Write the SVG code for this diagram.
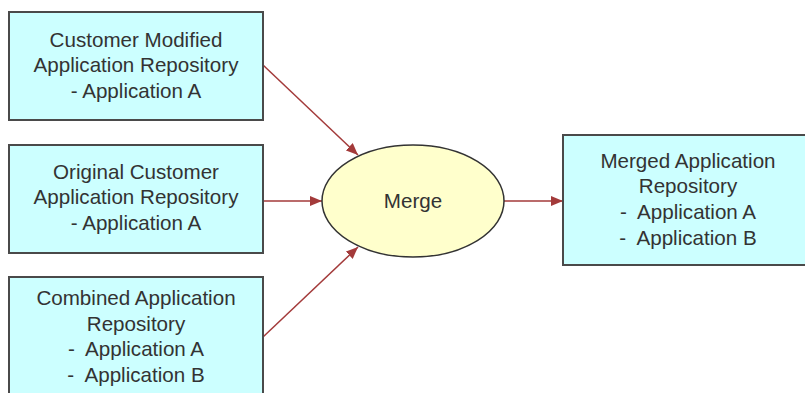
<svg xmlns="http://www.w3.org/2000/svg" width="805" height="393" viewBox="0 0 805 393">
<style>
.box{fill:#ccffff;stroke:#4a4a4a;stroke-width:2}
.ell{fill:#ffffcc;stroke:#333333;stroke-width:1.5}
.t{font-family:"Liberation Sans",Arial,sans-serif;font-size:20.6px;fill:#333333;text-anchor:middle}
.c{stroke:#a33a3a;stroke-width:1.5;fill:none;marker-end:url(#ah)}
</style>
<defs>
<marker id="ah" viewBox="0 0 12 10" refX="12" refY="5" markerWidth="12" markerHeight="10" markerUnits="userSpaceOnUse" orient="auto">
<path d="M0,0 L12,5 L0,10 Z" fill="#a33a3a"/>
</marker>
</defs>
<g id="connectors">
<line class="c" x1="263" y1="65" x2="358" y2="155"/>
<line class="c" x1="263" y1="201" x2="322" y2="201"/>
<line class="c" x1="263" y1="337" x2="358" y2="247"/>
<line class="c" x1="504" y1="201" x2="563" y2="201"/>
</g>
<g id="n1">
<rect class="box" x="9" y="12" width="254" height="108"/>
<text class="t" x="136" y="47">Customer Modified</text>
<text class="t" x="136" y="72">Application Repository</text>
<text class="t" x="136" y="98">- Application A</text>
</g>
<g id="n2">
<rect class="box" x="9" y="145" width="254" height="108"/>
<text class="t" x="136" y="179">Original Customer</text>
<text class="t" x="136" y="204">Application Repository</text>
<text class="t" x="136" y="230">- Application A</text>
</g>
<g id="n3">
<rect class="box" x="9" y="277" width="254" height="130"/>
<text class="t" x="136" y="305">Combined Application</text>
<text class="t" x="136" y="331">Repository</text>
<text class="t" x="136" y="356" xml:space="preserve">-  Application A</text>
<text class="t" x="136" y="382" xml:space="preserve">-  Application B</text>
</g>
<g id="merge">
<ellipse class="ell" cx="413" cy="201" rx="91" ry="56"/>
<text class="t" x="413" y="208">Merge</text>
</g>
<g id="n4">
<rect class="box" x="563" y="135" width="260" height="130"/>
<text class="t" x="688" y="168">Merged Application</text>
<text class="t" x="688" y="193">Repository</text>
<text class="t" x="688" y="219" xml:space="preserve">-  Application A</text>
<text class="t" x="688" y="245" xml:space="preserve">-  Application B</text>
</g>
</svg>
